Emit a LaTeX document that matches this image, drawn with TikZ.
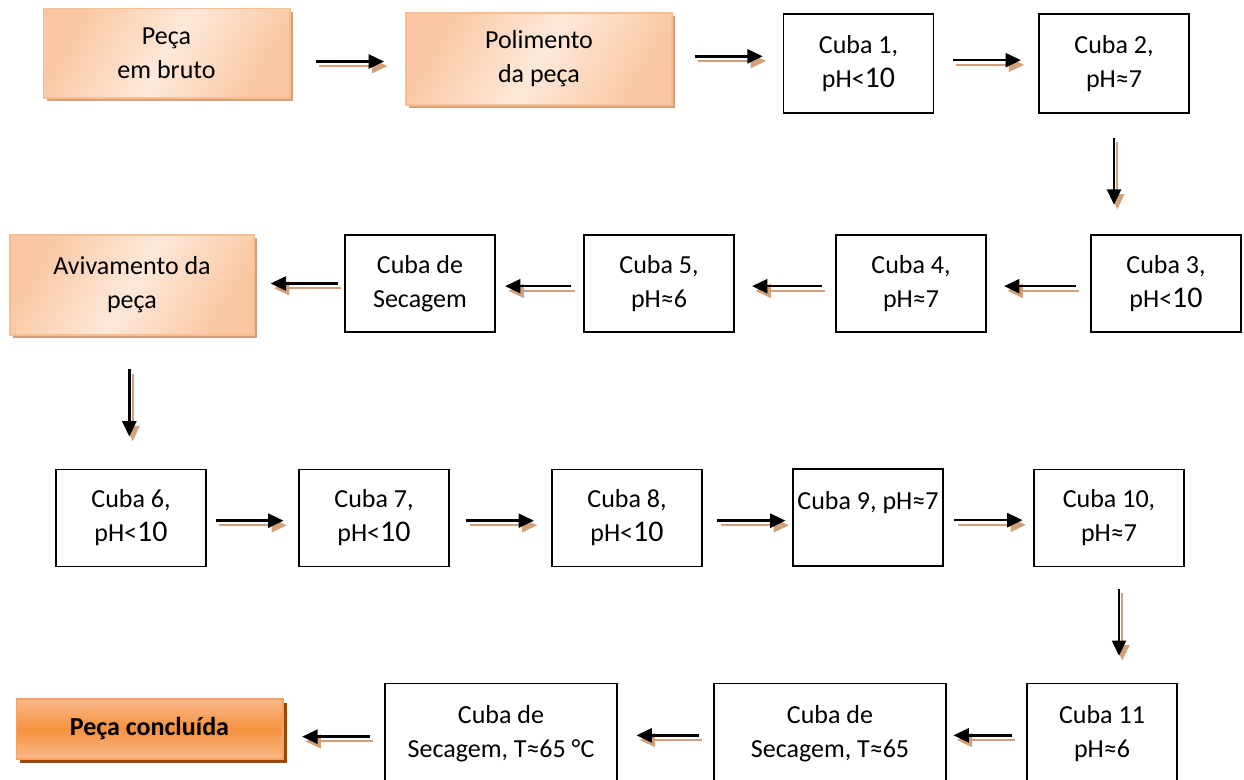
\documentclass[tikz,border=0pt]{standalone}
\usepackage{fontspec}
\setmainfont{Carlito}
\usetikzlibrary{arrows.meta,shadings}
\definecolor{oLight}{HTML}{FDE8D9}
\definecolor{oMid}{HTML}{FAC7A2}
\definecolor{oBorder}{HTML}{F9BE8F}
\definecolor{tanShadow}{HTML}{D2A07A}
\definecolor{fEdge}{HTML}{F9B98A}
\definecolor{fMid}{HTML}{F6923F}
\definecolor{fBorder}{HTML}{F4A060}
\definecolor{fShadow}{HTML}{984807}
\newcommand{\dez}{{\fontsize{22.5pt}{25.5pt}\selectfont 10}}
\tikzset{
  every node/.style={font=\fontsize{19.5pt}{25.5pt}\selectfont, align=center, inner sep=0pt},
  cuba/.style={draw=black, line width=1.2pt, fill=white, minimum width=112.5pt, minimum height=73pt},
  wide/.style={cuba, minimum width=174pt},
  soft/.style={draw=oBorder, line width=1pt, shading=axis, left color=oMid, right color=oMid, middle color=oLight, shading angle=60,
    preaction={fill=tanShadow, transform canvas={shift={(2.5pt,-2.5pt)}}}},
  final/.style={draw=fBorder, line width=1pt, shading=axis, top color=fEdge, bottom color=fEdge, middle color=fMid,
    minimum width=200pt, minimum height=45pt, font=\fontsize{19.5pt}{25.5pt}\selectfont\bfseries,
    preaction={fill=fShadow, transform canvas={shift={(3pt,-3pt)}}}},
  flow/.style={draw=black, line width=1.8pt, -{Triangle[length=11.5pt,width=10.5pt]},
    preaction={draw=tanShadow, line width=1.5pt, transform canvas={shift={(2.5pt,-3.5pt)}}}},
}
\begin{document}
\begin{tikzpicture}[x=0.75pt,y=-0.75pt]
\useasboundingbox (0,0) rectangle (1244,780);
% row 1
\node[soft, minimum width=185pt, minimum height=67pt] (b1) at (166.5,53.5) {Peça\\em bruto};
\node[soft, minimum width=199.5pt, minimum height=69pt] (b2) at (539,59) {Polimento\\da peça};
\node[cuba, minimum height=74pt] (c1) at (858.5,63.5) {Cuba 1,\\pH<\dez};
\node[cuba, minimum height=74pt] (c2) at (1114,63.5) {Cuba 2,\\pH≈7};
% row 2
\node[cuba] (c3) at (1166,283.5) {Cuba 3,\\pH<\dez};
\node[cuba] (c4) at (911,283.5) {Cuba 4,\\pH≈7};
\node[cuba] (c5) at (659,283.5) {Cuba 5,\\pH≈6};
\node[cuba] (s1) at (420,283.5) {Cuba de\\Secagem};
\node[soft, minimum width=183pt, minimum height=75pt] (av) at (132,285) {Avivamento da\\peça};
% row 3
\node[cuba] (c6) at (131,518) {Cuba 6,\\pH<\dez};
\node[cuba] (c7) at (374,518) {Cuba 7,\\pH<\dez};
\node[cuba] (c8) at (627,518) {Cuba 8,\\pH<\dez};
\node[cuba] (c9) at (868,517.5) {Cuba 9, pH≈7\\\mbox{}};
\node[cuba] (c10) at (1109,518) {Cuba 10,\\pH≈7};
% row 4
\node[cuba, minimum height=76pt] (c11) at (1102,734) {Cuba 11\\pH≈6};
\node[wide, minimum height=76pt] (s3) at (830,734) {Cuba de\\Secagem, T≈65};
\node[wide, minimum height=76pt] (s2) at (501,734) {Cuba de\\Secagem, T≈65 °C};
\node[final] (fin) at (149.5,729) {Peça concluída};
% arrows row 1
\draw[flow, shorten <=19pt, shorten >=16pt] ([yshift=-6pt]b1.east) -- ([yshift=-6pt]b1.east -| b2.west);
\draw[flow, shorten <=16.5pt, shorten >=15pt] ([yshift=2pt]b2.east) -- ([yshift=2pt]b2.east -| c1.west);
\draw[flow, shorten <=14pt, shorten >=13pt] ([yshift=2.5pt]c1.east) -- ([yshift=2.5pt]c1.east -| c2.west);
\draw[flow, shorten <=18pt, shorten >=22pt] (c2.south) -- (c2.south |- c3.north);
% arrows row 2
\draw[flow, shorten <=11pt, shorten >=13pt] ([yshift=-2pt]c3.west) -- ([yshift=-2pt]c3.west -| c4.east);
\draw[flow, shorten <=10pt, shorten >=13pt] ([yshift=-2pt]c4.west) -- ([yshift=-2pt]c4.west -| c5.east);
\draw[flow, shorten <=9pt, shorten >=7pt] ([yshift=-2pt]c5.west) -- ([yshift=-2pt]c5.west -| s1.east);
\draw[flow, shorten <=5pt, shorten >=12pt] ([yshift=0pt]s1.west) -- ([yshift=0pt]s1.west -| av.east);
\draw[flow, shorten <=25pt, shorten >=24pt] ([xshift=-2pt]av.south) -- ([xshift=-2pt]av.south |- c6.north);
% arrows row 3
\draw[flow, shorten <=7pt, shorten >=11pt] ([yshift=-2pt]c6.east) -- ([yshift=-2pt]c6.east -| c7.west);
\draw[flow, shorten <=12.5pt, shorten >=13pt] ([yshift=-2pt]c7.east) -- ([yshift=-2pt]c7.east -| c8.west);
\draw[flow, shorten <=11pt, shorten >=5pt] ([yshift=-2pt]c8.east) -- ([yshift=-2pt]c8.east -| c9.west);
\draw[flow, shorten <=8pt, shorten >=8pt] ([yshift=-2pt]c9.east) -- ([yshift=-2pt]c9.east -| c10.west);
\draw[flow, shorten <=16pt, shorten >=20pt] ([xshift=7.5pt]c10.south) -- ([xshift=7.5pt]c10.south |- c11.north);
% arrows row 4
\draw[flow, shorten <=11pt, shorten >=5pt] ([yshift=-1pt]c11.west) -- ([yshift=-1pt]c11.west -| s3.east);
\draw[flow, shorten <=11pt, shorten >=14pt] ([yshift=-1pt]s3.west) -- ([yshift=-1pt]s3.west -| s2.east);
\draw[flow, shorten <=11pt, shorten >=14pt] ([yshift=-2pt]s2.west) -- ([yshift=-2pt]s2.west -| fin.east);
\end{tikzpicture}
\end{document}
